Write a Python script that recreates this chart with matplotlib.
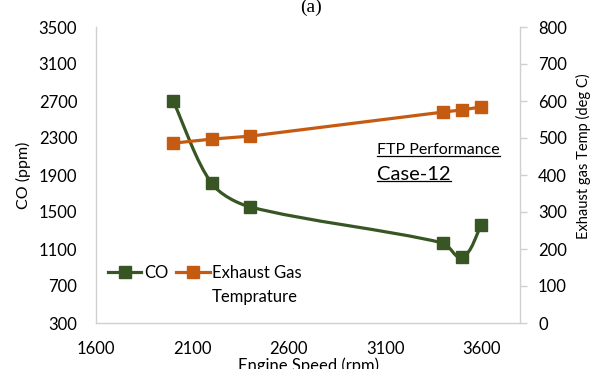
import numpy as np
import matplotlib
matplotlib.use("Agg")
import matplotlib.pyplot as plt
from matplotlib.path import Path
from matplotlib.patches import PathPatch
from matplotlib.lines import Line2D

plt.rcParams['font.family'] = ['Lato', 'DejaVu Sans']

# engine test data, FTP performance case 12
speed = [2000, 2200, 2400, 3400, 3500, 3600]
co_ppm = [2700, 1810, 1555, 1165, 1010, 1360]
exhaust_temp = [486, 497, 505, 570, 576, 584]

x_ticks = [1600, 2100, 2600, 3100, 3600]
co_ticks = [300, 700, 1100, 1500, 1900, 2300, 2700, 3100, 3500]
temp_ticks = [0, 100, 200, 300, 400, 500, 600, 700, 800]

GREEN = '#375623'
ORANGE = '#C55A11'
SPINE = '#D0D0D0'

XLIM = (1600, 3800)
YLIM = (300, 3500)
AX_W, AX_H = 424, 296  # axes size in pixels


def smooth_path(xs, ys, k=0.3):
    # bezier through the points, tangents taken in screen space so that
    # unequal x spacing doesn't produce loops
    sx = AX_W / (XLIM[1] - XLIM[0])
    sy = AX_H / (YLIM[1] - YLIM[0])
    pts = np.column_stack([np.asarray(xs) * sx, np.asarray(ys) * sy]).astype(float)
    n = len(pts)
    tang = []
    for i in range(n):
        d = pts[min(i + 1, n - 1)] - pts[max(i - 1, 0)]
        tang.append(d / np.hypot(*d))
    verts = [pts[0]]
    codes = [Path.MOVETO]
    for i in range(n - 1):
        seg = np.hypot(*(pts[i + 1] - pts[i]))
        verts += [pts[i] + tang[i] * seg * k, pts[i + 1] - tang[i + 1] * seg * k, pts[i + 1]]
        codes += [Path.CURVE4] * 3
    verts = np.array(verts) / [sx, sy]
    return Path(verts, codes)


fig = plt.figure(figsize=(5.94, 3.69), dpi=100)
ax = fig.add_axes([96 / 594, 1 - 323 / 369, AX_W / 594, AX_H / 369])
ax2 = ax.twinx()

# CO on the left axis, smoothed
ax.add_patch(PathPatch(smooth_path(speed, co_ppm), fill=False, edgecolor=GREEN,
                       lw=2.3, zorder=3))
ax.plot(speed, co_ppm, ls='none', marker='s', ms=8.5, color=GREEN, zorder=4)

# exhaust temperature on the right axis
ax2.plot(speed, exhaust_temp, color=ORANGE, lw=2.3, marker='s', ms=8.5, zorder=4)

ax.set_xlim(*XLIM)
ax.set_ylim(*YLIM)
ax2.set_ylim(0, 800)
ax.set_xticks(x_ticks)
ax.set_yticks(co_ticks)
ax2.set_yticks(temp_ticks)

for a in (ax, ax2):
    a.spines['top'].set_visible(False)
    for s in a.spines.values():
        s.set_color(SPINE)
        s.set_linewidth(1.0)
ax.spines['right'].set_visible(False)
ax2.spines['left'].set_visible(False)
ax2.spines['bottom'].set_visible(False)

ax.tick_params(axis='y', length=0, pad=13.5, labelsize=12)
ax.tick_params(axis='x', length=0, pad=13, labelsize=12)
ax2.tick_params(axis='y', length=5, width=1.0, color=SPINE, pad=8, labelsize=12)

fig.text(23 / 594, 1 - 175 / 369, 'CO (ppm)', rotation=90,
         ha='center', va='center', fontsize=11.5)
fig.text(583 / 594, 1 - 156 / 369, 'Exhaust gas Temp (deg C)', rotation=90,
         ha='center', va='center', fontsize=10.5)

fig.text(308 / 594, 1 - 357 / 369, 'Engine Speed (rpm)', ha='center', va='top', fontsize=12)
fig.text(311 / 594, 1 - 7 / 369, '(a)', ha='center', va='center', fontsize=14,
         family='Liberation Serif')

h1 = Line2D([], [], color=GREEN, lw=2.3, marker='s', ms=8)
h2 = Line2D([], [], color=ORANGE, lw=2.3, marker='s', ms=8)
leg = ax2.legend([h1, h2], ['CO', 'Exhaust Gas'], ncol=2, frameon=False,
                 fontsize=12, loc='center left', bbox_to_anchor=(12 / AX_W, 50 / AX_H),
                 handlelength=2.0, handletextpad=0.15, columnspacing=0.5,
                 borderaxespad=0, borderpad=0)

# underlined annotation
t1 = ax.text(377 / 594, 1 - 150 / 369, 'FTP Performance', transform=fig.transFigure,
             fontsize=11.5, va='center', ha='left')
t2 = ax.text(377 / 594, 1 - 174 / 369, 'Case-12', transform=fig.transFigure,
             fontsize=14.5, va='center', ha='left')
fig.canvas.draw()
renderer = fig.canvas.get_renderer()
inv = fig.transFigure.inverted()
for t in (t1, t2):
    bb = t.get_window_extent(renderer).transformed(inv)
    fig.add_artist(Line2D([bb.x0, bb.x1], [bb.y0 + 1.5 / 369, bb.y0 + 1.5 / 369],
                          color='black', lw=0.9, transform=fig.transFigure))

# second line of the temperature legend label, under "Exhaust Gas"
lbl = leg.get_texts()[1].get_window_extent(renderer).transformed(inv)
fig.text(lbl.x0, lbl.y0 - 24 / 369, 'Temprature', fontsize=12, ha='left', va='bottom')

fig.savefig('out.png', dpi=100)
